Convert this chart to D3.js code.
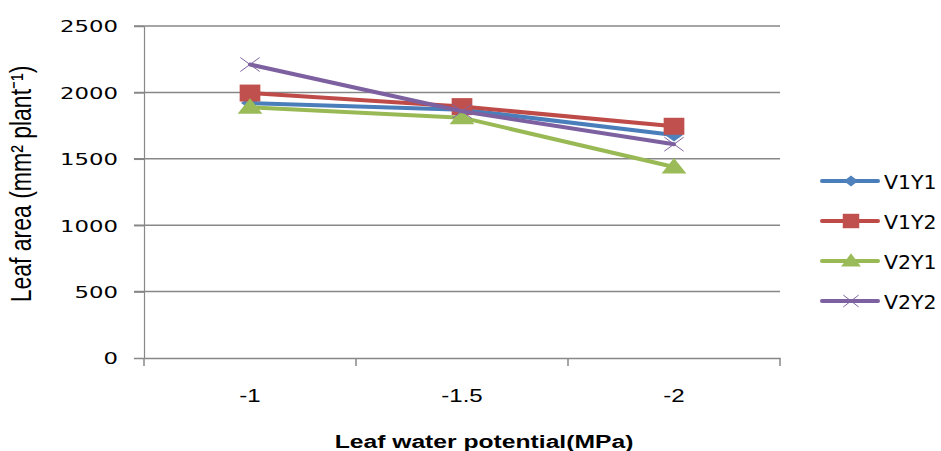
<!DOCTYPE html>
<html>
<head>
<meta charset="utf-8">
<script src="https://cdn.jsdelivr.net/npm/d3@7"></script>
<style>
  html, body { margin: 0; padding: 0; background: #fff; }
  svg { display: block; }
</style>
</head>
<body>
<svg id="chart" width="941" height="451"></svg>
<script>
// ---- data ----
const categories = ["-1", "-1.5", "-2"];
const seriesNames = ["V1Y1", "V1Y2", "V2Y1", "V2Y2"];
const V1Y1 = [1920, 1870, 1680];
const V1Y2 = [1995, 1893, 1745];
const V2Y1 = [1888, 1810, 1438];
const V2Y2 = [2210, 1858, 1610];
const yTicks = [0, 500, 1000, 1500, 2000, 2500];
const xTitle = "Leaf water potential(MPa)";
const yTitle = "Leaf area (mm² plant⁻¹)";

// ---- styles ----
const styles = {
  V1Y1: { line: "#4a7ebb", fill: "#4f81bd", marker: "diamond" },
  V1Y2: { line: "#be4b48", fill: "#c0504d", marker: "square" },
  V2Y1: { line: "#98b954", fill: "#9bbb59", marker: "triangle" },
  V2Y2: { line: "#7d60a0", fill: "#8064a2", marker: "x" }
};
const seriesData = [V1Y1, V1Y2, V2Y1, V2Y2];
const SX = 1.38; // horizontal stretch of the original picture

const svg = d3.select("#chart");
const x = d3.scaleBand().domain(categories).range([144, 780]).padding(0);
const y = d3.scaleLinear().domain([0, 2500]).range([358, 26]);

const grid = "#878787";

// gridlines
svg.append("g").selectAll("line").data(yTicks.filter(d => d > 0)).join("line")
  .attr("x1", 134).attr("x2", 780)
  .attr("y1", d => y(d)).attr("y2", d => y(d))
  .attr("stroke", grid).attr("stroke-width", 1.5);

// y axis
const yAxis = svg.append("g").attr("transform", "translate(144,0)")
  .call(d3.axisLeft(y).tickValues(yTicks).tickSize(10).tickSizeOuter(0).tickFormat(d3.format("d")));
yAxis.select(".domain").attr("stroke", grid).attr("stroke-width", 1.2);
yAxis.selectAll(".tick line").attr("stroke", grid).attr("stroke-width", 1.5);
yAxis.selectAll(".tick text")
  .attr("x", 0).attr("dy", "0.36em")
  .attr("transform", `translate(-26,0) scale(${SX},1)`)
  .attr("text-anchor", "end")
  .style("font-family", "'DejaVu Sans', Verdana, sans-serif")
  .style("font-size", "16.5px").attr("fill", "#000");

// x axis
const xAxis = svg.append("g").attr("transform", "translate(0,358)")
  .call(d3.axisBottom(x).tickSize(0).tickSizeOuter(0));
xAxis.select(".domain").attr("stroke", grid).attr("stroke-width", 1.5);
xAxis.selectAll(".tick text")
  .attr("y", 0).attr("dy", 0)
  .attr("transform", `translate(0,43.5) scale(1.3,1)`)
  .attr("text-anchor", "middle")
  .style("font-family", "'Liberation Sans', Arial, sans-serif")
  .style("font-size", "18.5px").attr("fill", "#000");
// category boundary ticks
const bounds = categories.map(c => x(c)).concat([x(categories[categories.length - 1]) + x.bandwidth()]);
svg.append("g").selectAll("line").data(bounds).join("line")
  .attr("x1", d => d).attr("x2", d => d)
  .attr("y1", 358).attr("y2", 366)
  .attr("stroke", grid).attr("stroke-width", 1.5);

// series
function markerPath(type) {
  switch (type) {
    case "diamond": return "M0,-6.5L6.5,0L0,6.5L-6.5,0Z";
    case "square": return "M-7.5,-8.5H7.5V8.5H-7.5Z";
    case "triangle": return "M0,-9L9,6.5H-9Z";
    case "x": return "M-7,-7L7,7M7,-7L-7,7";
  }
}
const line = d3.line().x((d, i) => x(categories[i]) + x.bandwidth() / 2).y(d => y(d));

seriesNames.forEach((name, si) => {
  const st = styles[name];
  const vals = seriesData[si];
  const g = svg.append("g");
  g.append("path").datum(vals).attr("d", line)
    .attr("fill", "none").attr("stroke", st.line).attr("stroke-width", 4)
    .attr("stroke-linejoin", "round").attr("stroke-linecap", "round");
  g.selectAll("path.m").data(vals).join("path").attr("class", "m")
    .attr("d", markerPath(st.marker))
    .attr("transform", (d, i) => `translate(${x(categories[i]) + x.bandwidth() / 2},${y(d)}) scale(${SX},1)`)
    .attr("fill", st.marker === "x" ? "none" : st.fill)
    .attr("stroke", st.marker === "x" ? st.fill : "none")
    .attr("stroke-width", st.marker === "x" ? 1 : 0)
    .attr("vector-effect", "non-scaling-stroke");
});

// legend
const leg = svg.append("g");
seriesNames.forEach((name, i) => {
  const st = styles[name];
  const cy = 181 + i * 40;
  leg.append("line").attr("x1", 822).attr("x2", 878).attr("y1", cy).attr("y2", cy)
    .attr("stroke", st.line).attr("stroke-width", 4).attr("stroke-linecap", "round");
  leg.append("path").attr("d", markerPath(st.marker))
    .attr("transform", `translate(851,${cy}) scale(1.1,0.85)`)
    .attr("fill", st.marker === "x" ? "none" : st.fill)
    .attr("stroke", st.marker === "x" ? st.fill : "none")
    .attr("stroke-width", st.marker === "x" ? 1 : 0)
    .attr("vector-effect", "non-scaling-stroke");
  leg.append("text").text(name)
    .attr("transform", `translate(884,${cy + 7.5}) scale(1.05,1)`)
    .style("font-family", "'DejaVu Sans', Verdana, sans-serif")
    .style("font-size", "19.5px").attr("fill", "#000");
});

// axis titles
svg.append("text").text(xTitle)
  .attr("transform", `translate(484,448) scale(1.41,1)`)
  .attr("text-anchor", "middle")
  .style("font-family", "'Liberation Sans', Arial, sans-serif")
  .style("font-weight", "bold").style("font-size", "17.5px").attr("fill", "#000");

svg.append("text").text(yTitle)
  .attr("transform", `translate(31,184) scale(1.25,1) rotate(-90)`)
  .attr("text-anchor", "middle")
  .style("font-family", "'Liberation Sans', Arial, sans-serif")
  .style("font-size", "23px").attr("fill", "#000");
</script>
</body>
</html>
